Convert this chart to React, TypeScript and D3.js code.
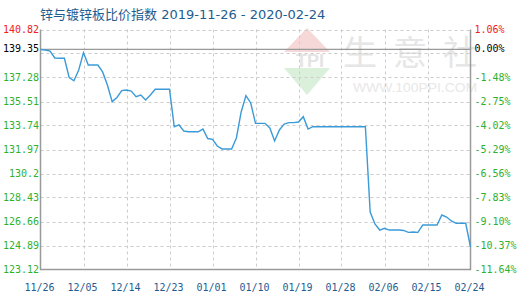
import React from "react";
import * as d3 from "d3";

// Daily index values, 2019-11-26 .. 2020-02-24
const startDate = "2019-11-26";
const values: number[] = [
  139.35, 139.31, 139.23, 138.72, 138.7, 138.7, 137.28, 137.04, 137.83, 139.11,
  138.2, 138.2, 138.2, 137.69, 136.73, 135.5, 135.81, 136.31, 136.36, 136.28,
  135.86, 135.99, 135.62, 135.99, 136.41, 136.41, 136.41, 136.41, 133.65, 133.78,
  133.33, 133.28, 133.28, 133.28, 133.48, 132.78, 132.72, 132.23, 132.01, 132.01,
  132.01, 132.82, 134.74, 135.94, 135.4, 133.9, 133.9, 133.9, 133.56, 132.6,
  133.41, 133.85, 133.95, 133.95, 134.0, 134.39, 133.48, 133.65, 133.65, 133.65,
  133.65, 133.65, 133.65, 133.65, 133.65, 133.65, 133.65, 133.65, 133.65, 127.36,
  126.48, 126.03, 126.16, 126.03, 126.03, 126.03, 126.0, 125.86, 125.89, 125.86,
  126.4, 126.4, 126.4, 126.4, 127.14, 126.99, 126.7, 126.53, 126.53, 126.53,
  124.78,
];

const baseValue = 139.35;
const baseLabel = "0.00%";

const yTicks: number[] = [
  140.82, 139.05, 137.28, 135.51, 133.74, 131.97, 130.2, 128.43, 126.66, 124.89, 123.12,
];
const yTickLabels: string[] = [
  "140.82", "", "137.28", "135.51", "133.74", "131.97", "130.2", "128.43", "126.66", "124.89", "123.12",
];
const yRightLabels: string[] = [
  "1.06%", "", "-1.48%", "-2.75%", "-4.02%", "-5.29%", "-6.56%", "-7.83%", "-9.10%", "-10.37%", "-11.64%",
];
const xTickLabels: string[] = [
  "11/26", "12/05", "12/14", "12/23", "01/01", "01/10", "01/19", "01/28", "02/06", "02/15", "02/24",
];

const title = "锌与镀锌板比价指数 2019-11-26 - 2020-02-24";

const W = 520;
const H = 300;
const left = 40.5;
const right = 470.5;
const top = 29.5;
const bottom = 269.5;

const parse = d3.timeParse("%Y-%m-%d");
const t0 = parse(startDate) as Date;
const dates = values.map((_, i) => d3.timeDay.offset(t0, i));
const tickDates = xTickLabels.map((_, i) => d3.timeDay.offset(t0, i * 9));

const x = d3
  .scaleTime()
  .domain([dates[0], dates[dates.length - 1]])
  .range([left, right]);
const y = d3
  .scaleLinear()
  .domain([yTicks[yTicks.length - 1], yTicks[0]])
  .range([bottom, top]);

const line = d3
  .line<number>()
  .x((_, i) => x(dates[i]))
  .y((v) => y(v));

const mono = "'DejaVu Sans Mono', monospace";
const green = "#2fb12f";
const red = "#f02020";
const blue = "#1f5c8f";

export default function App() {
  return (
    <svg
      width={W}
      height={H}
      style={{ position: "fixed", left: 0, top: 0, background: "#fff" }}
      xmlns="http://www.w3.org/2000/svg"
    >
      <rect width={W} height={H} fill="#fff" />

      {/* watermark */}
      <g opacity={0.9}>
        <polygon points="307,28 284,52 330,52" fill="#f6d4d4" />
        <polygon points="284,68 330,68 307,95" fill="#d8efd8" />
        <text x={296} y={67} fontSize={18} fontFamily="'Liberation Sans', sans-serif" fontWeight="bold" fill="#e2e2e2">
          TPI
        </text>
        <text
          x={343}
          y={65}
          fontSize={34}
          fontFamily="'Noto Sans CJK SC', sans-serif"
          fill="#e4e4e4"
          letterSpacing={16}
        >
          生意社
        </text>
        <text
          x={353}
          y={92}
          fontSize={13}
          fontFamily="'Liberation Sans', sans-serif"
          fill="#e6e6e6"
          textLength={124}
          lengthAdjust="spacingAndGlyphs"
        >
          WWW.100PPI.COM
        </text>
      </g>

      {/* grid */}
      <g stroke="#cccccc" strokeWidth={1} strokeDasharray="3,3" fill="none">
        {yTicks.slice(0, -1).map((t) => (
          <line key={"h" + t} x1={left} x2={right} y1={Math.round(y(t)) + 0.5} y2={Math.round(y(t)) + 0.5} />
        ))}
        {tickDates.slice(1, -1).map((d, i) => (
          <line key={"v" + i} x1={Math.round(x(d)) + 0.5} x2={Math.round(x(d)) + 0.5} y1={top} y2={bottom} />
        ))}
      </g>

      {/* base line */}
      <line x1={left} x2={right} y1={y(baseValue)} y2={y(baseValue)} stroke="#999" strokeWidth={1.2} />

      {/* axes */}
      <g stroke="#9a9a9a" strokeWidth={1.5}>
        <line x1={left} x2={left} y1={top} y2={bottom + 0.75} />
        <line x1={right} x2={right} y1={top} y2={bottom + 0.75} />
        <line x1={left} x2={right} y1={bottom} y2={bottom} />
      </g>

      {/* series */}
      <path d={line(values) || ""} fill="none" stroke="#3b9ad8" strokeWidth={1.4} />

      {/* title */}
      <text x={40} y={19} fontSize={13} fontFamily="'DejaVu Sans', 'Noto Sans CJK SC', sans-serif" fill={blue}>
        {title}
      </text>

      {/* left labels */}
      <g fontFamily={mono} fontSize={10} textAnchor="end" dominantBaseline="middle">
        {yTicks.map((t, i) =>
          yTickLabels[i] ? (
            <text key={"l" + i} x={39} y={y(t)} fill={i === 0 ? red : green}>
              {yTickLabels[i]}
            </text>
          ) : null
        )}
        <text x={39} y={y(baseValue)} fill="#000">
          {baseValue.toFixed(2)}
        </text>
      </g>

      {/* right labels */}
      <g fontFamily={mono} fontSize={10} textAnchor="start" dominantBaseline="middle">
        {yTicks.map((t, i) =>
          yRightLabels[i] ? (
            <text key={"r" + i} x={474.5} y={y(t)} fill={i === 0 ? red : green}>
              {yRightLabels[i]}
            </text>
          ) : null
        )}
        <text x={474.5} y={y(baseValue)} fill="#000">
          {baseLabel}
        </text>
      </g>

      {/* x labels */}
      <g fontFamily={mono} fontSize={10} textAnchor="middle" fill={blue}>
        {tickDates.map((d, i) => (
          <text key={"x" + i} x={x(d) - 1} y={290.5}>
            {xTickLabels[i]}
          </text>
        ))}
      </g>
    </svg>
  );
}
